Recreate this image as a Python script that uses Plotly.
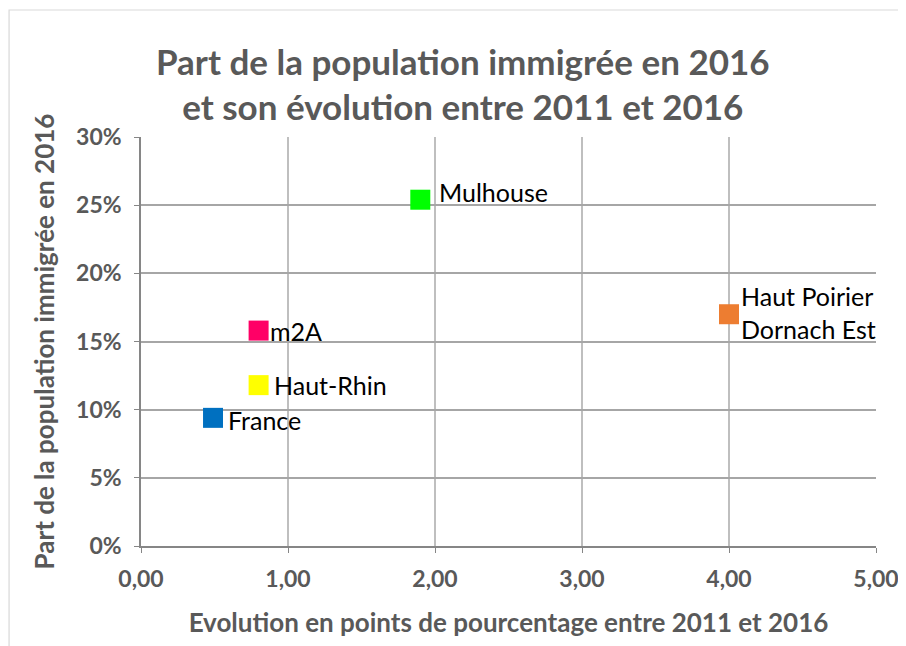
import plotly.graph_objects as go

names = ["Mulhouse", "m2A", "Haut-Rhin", "France", "Haut Poirier<br>Dornach Est"]
evolution = [1.90, 0.80, 0.80, 0.49, 4.00]
part = [0.254, 0.158, 0.118, 0.094, 0.170]
colors = ["#00ff00", "#ff0066", "#ffff00", "#0070c0", "#ed7d31"]
label_xshift = [17, 9, 13, 13, 10]
label_yshift = [8, 0, 0, -2, 2]

FONT = "Lato, Carlito, Calibri, sans-serif"
GREY = "#595959"

fig = go.Figure()
fig.add_trace(go.Scatter(
    x=evolution, y=part, mode="markers",
    marker=dict(symbol="square", size=20, color=colors, line=dict(width=0)),
    showlegend=False, hoverinfo="skip",
))

for n, xv, yv, dx, dy in zip(names, evolution, part, label_xshift, label_yshift):
    fig.add_annotation(x=xv, y=yv, text=n, showarrow=False, xanchor="left",
                       yanchor="middle", align="left", xshift=dx, yshift=dy,
                       font=dict(family=FONT, size=25, color="#000000"))

fig.add_shape(type="rect", xref="paper", yref="paper", x0=-0.1795, x1=1.2,
              y0=-0.4, y1=1.3105, line=dict(color="#d9d9d9", width=1.2),
              fillcolor="rgba(0,0,0,0)", layer="below")

fig.update_layout(
    width=906, height=646,
    margin=dict(l=133, r=38, t=129, b=108),
    paper_bgcolor="white", plot_bgcolor="white",
    separators=", ",
    title=dict(text="Part de la population immigrée en 2016<br>et son évolution entre 2011 et 2016",
               xref="container", x=0.502, xanchor="center",
               yref="container", y=0.897, yanchor="top",
               font=dict(family=FONT, size=35, color=GREY, weight="bold")),
    xaxis=dict(range=[0, 5], dtick=1, tickformat=".2f",
               showgrid=True, gridcolor="#bfbfbf", gridwidth=1.5,
               zeroline=False, showline=True, linecolor="#868686", linewidth=1.5,
               ticks="outside", ticklen=5, tickcolor="#868686",
               ticklabelstandoff=7,
               tickfont=dict(family=FONT, size=23, color=GREY, weight="bold"),
               title=dict(text="Evolution en points de pourcentage entre 2011 et 2016",
                          font=dict(family=FONT, size=26, color=GREY, weight="bold"),
                          standoff=22),
               fixedrange=True),
    yaxis=dict(range=[0, 0.30], dtick=0.05, tickformat=".0%",
               showgrid=True, gridcolor="#a6a6a6", gridwidth=1.5,
               zeroline=False, showline=True, linecolor="#868686", linewidth=1.5,
               ticks="outside", ticklen=5, tickcolor="#868686",
               ticklabelstandoff=8,
               tickfont=dict(family=FONT, size=23, color=GREY, weight="bold"),
               title=dict(text="Part de la population immigrée en 2016",
                          font=dict(family=FONT, size=26, color=GREY, weight="bold"),
                          standoff=14),
               fixedrange=True),
)

fig.write_html("out.html")
